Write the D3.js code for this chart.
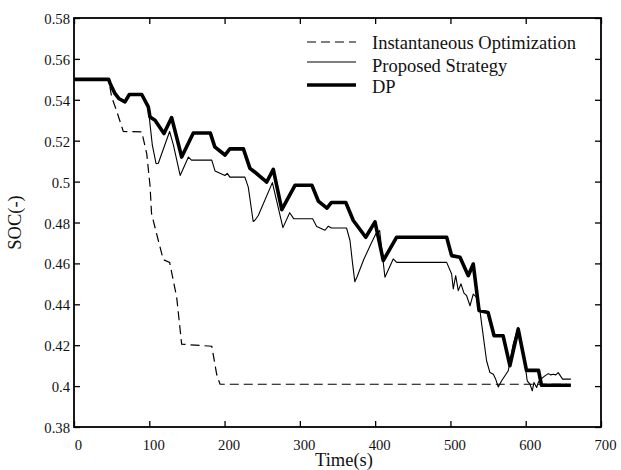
<!DOCTYPE html>
<html>
<head>
<meta charset="utf-8">
<script src="https://cdn.jsdelivr.net/npm/d3@7"></script>
<style>
  body { margin: 0; background: #fff; }
  text { font-family: "Liberation Serif", "Times New Roman", serif; fill: #111; }
</style>
</head>
<body>
<div id="graphd3"></div>
<script>
// time (s) and SOC values
var timeInst = [0, 46, 50, 56.7, 65.5, 90, 96.6, 101, 103, 112, 118.6, 127, 136.4, 143, 183, 189.5, 194, 655];
var socInst  = [0.55, 0.55, 0.5414, 0.5345, 0.5245, 0.5243, 0.5137, 0.498, 0.4843, 0.4712, 0.4618, 0.4605, 0.4434, 0.4205, 0.4195, 0.4058, 0.4009, 0.4009];

var timeProp = [0, 46, 48, 54.5, 60, 67.7, 73.5, 90, 98.7, 101, 104, 109, 112, 127, 132, 141, 152, 156, 183, 187.3, 200.5, 203.6, 207, 227, 231.5, 238, 240, 244.8, 263.5, 277.5, 286.5, 292, 317, 322.3, 333.4, 337.8, 342, 362, 366.6, 370, 373, 376, 385, 395, 401, 406, 413, 424, 428.6, 495, 501.6, 503.8, 507, 510.4, 514, 518, 521.5, 526, 530.3, 534.8, 539, 541.5, 548, 552.5, 557, 560, 563.5, 568, 576.8, 583.4, 590, 594.6, 599, 602, 605.6, 608.7, 611, 614.5, 616.7, 620, 625.5, 630, 633, 636.6, 640, 643.2, 649, 660];
var socProp  = [0.55, 0.55, 0.548, 0.543, 0.5405, 0.539, 0.5426, 0.5426, 0.5365, 0.528, 0.518, 0.5088, 0.509, 0.5245, 0.518, 0.503, 0.512, 0.5105, 0.5105, 0.5052, 0.503, 0.504, 0.5022, 0.5022, 0.4973, 0.4805, 0.481, 0.4834, 0.4995, 0.4775, 0.4848, 0.4818, 0.4818, 0.478, 0.4762, 0.4782, 0.4773, 0.4773, 0.4712, 0.46, 0.451, 0.4535, 0.462, 0.47, 0.4745, 0.476, 0.4532, 0.4622, 0.4605, 0.4605, 0.4548, 0.4475, 0.454, 0.4467, 0.45, 0.4455, 0.4442, 0.4393, 0.445, 0.4434, 0.4377, 0.4303, 0.4124, 0.4066, 0.4058, 0.4035, 0.3996, 0.4026, 0.4075, 0.4205, 0.4287, 0.4197, 0.4107, 0.4026, 0.401, 0.3977, 0.4018, 0.3993, 0.4018, 0.4034, 0.405, 0.4061, 0.4055, 0.4058, 0.4055, 0.4066, 0.4034, 0.4034];

var timeDP = [0, 46, 48, 54.5, 60, 67.7, 73.5, 90, 98.7, 101, 107.6, 119.5, 129.7, 143, 158.5, 181, 187, 200.5, 207, 225, 233.7, 240, 256, 264.7, 276, 293.5, 316, 324.5, 336, 342, 361, 371, 387.5, 399.8, 410.8, 428.6, 495, 501.6, 512.7, 523.7, 530.3, 538, 550, 558, 570, 579, 590, 601, 617, 621, 660];
var socDP  = [0.55, 0.55, 0.548, 0.543, 0.5405, 0.539, 0.5426, 0.5426, 0.5365, 0.5316, 0.53, 0.5235, 0.5313, 0.512, 0.5238, 0.5238, 0.517, 0.513, 0.516, 0.516, 0.5065, 0.5047, 0.4998, 0.506, 0.4863, 0.4982, 0.4982, 0.4905, 0.487, 0.4898, 0.4898, 0.481, 0.4728, 0.4803, 0.4614, 0.4728, 0.4728, 0.4638, 0.463, 0.454, 0.4597, 0.437, 0.436, 0.4246, 0.4246, 0.41, 0.4279, 0.4077, 0.4077, 0.4004, 0.4004];

var xTicks = [0, 100, 200, 300, 400, 500, 600, 700];
var yTicks = [0.38, 0.40, 0.42, 0.44, 0.46, 0.48, 0.50, 0.52, 0.54, 0.56, 0.58];
var legendLabels = ["Instantaneous Optimization", "Proposed Strategy", "DP"];

var widthGraph = 621;
var heightGraph = 470;
var margin = {top: 18, right: 20, bottom: 43, left: 74},
    width = widthGraph - margin.left - margin.right,
    height = heightGraph - margin.top - margin.bottom;

var svg = d3.select("#graphd3").append("svg")
    .attr("width", widthGraph)
    .attr("height", heightGraph);

var g = svg.append("g")
    .attr("transform", "translate(" + margin.left + "," + margin.top + ")");

var x = d3.scaleLinear().domain([0, 700]).range([0, width]);
var y = d3.scaleLinear().domain([0.38, 0.58]).range([height, 0]);

function zip(t, s) {
  return t.map(function(d, i) { return {t: d, s: s[i]}; });
}

var valueline = d3.line()
    .x(function(d) { return x(d.t); })
    .y(function(d) { return y(d.s); });

// series
g.append("path").datum(zip(timeInst, socInst))
    .attr("d", valueline)
    .attr("fill", "none").attr("stroke", "#000")
    .attr("stroke-width", 1.2).attr("stroke-dasharray", "9,5");

g.append("path").datum(zip(timeProp, socProp))
    .attr("d", valueline)
    .attr("fill", "none").attr("stroke", "#000")
    .attr("stroke-width", 1.1).attr("stroke-linejoin", "round");

g.append("path").datum(zip(timeDP, socDP))
    .attr("d", valueline)
    .attr("fill", "none").attr("stroke", "#000")
    .attr("stroke-width", 3.6).attr("stroke-linejoin", "round");

// axes, ticks pointing inward on all four sides
var x_axis = d3.axisBottom(x).tickValues(xTicks).tickSize(-6).tickPadding(13).tickFormat(d3.format("d"));
var y_axis = d3.axisLeft(y).tickValues(yTicks).tickSize(-6).tickPadding(4).tickFormat(d3.format("~g"));

var gx = g.append("g").attr("transform", "translate(0," + height + ")").call(x_axis);
gx.selectAll("text").attr("dx", 4).style("font-size", "14.7px");
var gy = g.append("g").call(y_axis);
gy.selectAll("text").attr("dy", "0.38em").style("font-size", "14.7px");

g.append("g").call(d3.axisTop(x).tickValues(xTicks).tickSize(-6).tickFormat(""));
g.append("g").attr("transform", "translate(" + width + ",0)")
    .call(d3.axisRight(y).tickValues(yTicks).tickSize(-6).tickFormat(""));

g.selectAll(".domain").remove();
g.selectAll(".tick line").attr("stroke", "#000").attr("stroke-width", 1.3);

g.append("rect")
    .attr("width", width).attr("height", height)
    .attr("fill", "none").attr("stroke", "#000").attr("stroke-width", 1.8);

// axis labels
svg.append("text")
    .attr("x", 344).attr("y", 466)
    .attr("text-anchor", "middle")
    .style("font-size", "18.5px")
    .text("Time(s)");

svg.append("text")
    .attr("transform", "translate(21," + (margin.top + height / 2) + ") rotate(-90)")
    .attr("text-anchor", "middle")
    .style("font-size", "18.5px")
    .text("SOC(-)");

// legend
var legendY = [42, 62, 85];
var legendW = [1.2, 1.1, 3.6];
var legendDash = ["9,5", null, null];
legendLabels.forEach(function(lab, i) {
  svg.append("line")
      .attr("x1", 307).attr("x2", 356)
      .attr("y1", legendY[i]).attr("y2", legendY[i])
      .attr("stroke", "#000").attr("stroke-width", legendW[i])
      .attr("stroke-dasharray", legendDash[i]);
  svg.append("text")
      .attr("x", 372).attr("y", [48.5, 71.5, 93][i])
      .style("font-size", "18.5px")
      .text(lab);
});
</script>
</body>
</html>
